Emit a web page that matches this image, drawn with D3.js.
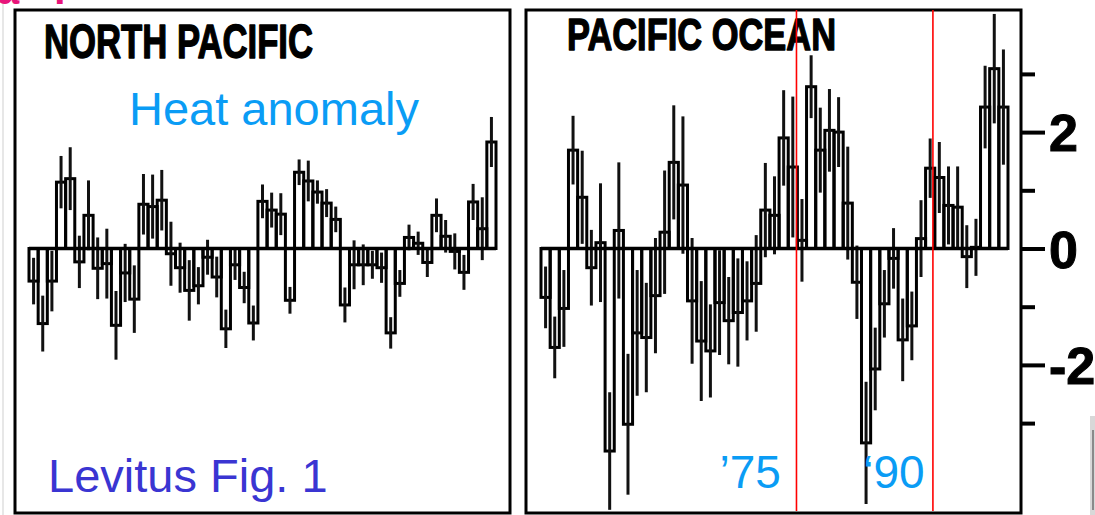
<!DOCTYPE html>
<html>
<head>
<meta charset="utf-8">
<script src="https://cdn.jsdelivr.net/npm/d3@7"></script>
<style>
  html, body { margin: 0; padding: 0; background: #ffffff; }
  svg { display: block; }
</style>
</head>
<body>
<svg id="chart" width="1095" height="515"></svg>
<script>
// ---------------- data ----------------
const years = [1948,1949,1950,1951,1952,1953,1954,1955,1956,1957,1958,1959,1960,1961,1962,1963,1964,1965,1966,1967,
  1968,1969,1970,1971,1972,1973,1974,1975,1976,1977,1978,1979,1980,1981,1982,1983,1984,1985,1986,1987,
  1988,1989,1990,1991,1992,1993,1994,1995,1996,1997,1998];

const northPacific = [-0.56,-1.29,-0.56,1.14,1.2,-0.23,0.57,-0.34,-0.26,-1.32,-0.42,-0.87,0.76,0.72,0.83,-0.09,-0.33,
  -0.72,-0.64,-0.15,-0.49,-1.38,-0.28,-0.67,-1.28,0.81,0.66,0.59,-0.89,1.31,1.16,0.97,0.78,0.5,-0.97,
  -0.28,-0.28,-0.28,-0.33,-1.45,-0.6,0.19,0.09,-0.24,0.57,0.21,-0.05,-0.41,0.8,0.34,1.83];
const northPacificErr = [0.4,0.48,0.52,0.45,0.54,0.45,0.6,0.53,0.6,0.59,0.5,0.58,0.52,0.55,0.52,0.55,0.43,
  0.52,0.32,0.3,0.35,0.33,0.26,0.27,0.3,0.29,0.3,0.36,0.23,0.22,0.35,0.2,0.24,0.22,0.3,
  0.42,0.35,0.24,0.26,0.27,0.23,0.22,0.2,0.25,0.29,0.28,0.31,0.3,0.31,0.54,0.43];

const pacificOcean = [-0.84,-1.7,-1.03,1.69,0.88,-0.33,0.1,-3.48,0.31,-3.02,-1.45,-1.53,-0.81,0.28,1.48,1.09,-0.9,
  -1.59,-1.76,-0.93,-1.24,-1.1,-0.9,-0.6,0.66,0.57,1.9,1.4,0.14,2.78,1.69,2.03,2.0,0.78,-0.58,
  -3.34,-2.07,-0.95,-0.17,-1.57,-1.33,0.17,1.38,1.22,0.74,0.71,-0.14,0.02,2.43,3.09,2.43];
const pacificOceanErr = [0.53,0.53,0.66,0.59,0.8,0.65,1.02,1.01,1.17,1.21,1.08,0.94,0.99,1.06,0.98,1.18,1.08,
  1.03,0.8,0.9,0.75,0.93,0.68,0.83,0.81,0.67,0.82,1.21,0.71,0.54,0.73,0.71,0.6,0.97,0.63,
  1.05,0.71,0.58,0.52,0.71,0.59,0.66,0.51,0.61,0.67,0.7,0.54,0.49,0.71,0.94,0.99];

const minorTicks = [-3, -1, 1, 3];
const majorTicks = [-2, 0, 2];
const markerYears = [1975.4, 1990.3];
const markerLabels = ["\u201975", "\u201890"];
const markerLabelYears = [1967.0, 1982.7];
const panelTitles = ["NORTH PACIFIC", "PACIFIC OCEAN"];

// ---------------- drawing ----------------
const svg = d3.select("#chart");

const y = d3.scaleLinear().domain([-4.5, 4]).range([248.5 + 4.5 * 58.2, 248.5 - 4 * 58.2]);

// faint page edges
svg.append("line").attr("x1", 3).attr("x2", 3).attr("y1", 0).attr("y2", 515)
  .attr("stroke", "#cfcfcf").attr("stroke-width", 1);
svg.append("rect").attr("x", 1090).attr("y", 416).attr("width", 5).attr("height", 99)
  .attr("fill", "#d8d8d8");
svg.append("rect").attr("x", 1092).attr("y", 430).attr("width", 2).attr("height", 80)
  .attr("fill", "#8a8a8a");

// clipped pink heading fragment at top-left
svg.append("text").attr("x", -3).attr("y", 4).text("a I")
  .attr("font-family", "Liberation Sans, Arial, sans-serif").attr("font-weight", "bold")
  .attr("font-size", 40).attr("fill", "#e8157a").attr("letter-spacing", 12);

function drawPanel(frame, range, values, errs, title, titlePos) {
  const g = svg.append("g");
  const x = d3.scaleBand().domain(years).range(range).paddingInner(0).paddingOuter(0);

  // frame
  g.append("rect").attr("x", frame[0]).attr("y", frame[1])
    .attr("width", frame[2] - frame[0]).attr("height", frame[3] - frame[1])
    .attr("fill", "none").attr("stroke", "#000").attr("stroke-width", 3);

  const data = years.map((yr, i) => ({ yr, v: values[i], e: errs[i] }));

  // bars (open rectangles)
  g.selectAll("rect.bar").data(data).join("rect")
    .attr("class", "bar")
    .attr("x", d => x(d.yr))
    .attr("width", x.bandwidth())
    .attr("y", d => Math.min(y(d.v), y(0)))
    .attr("height", d => Math.abs(y(d.v) - y(0)))
    .attr("fill", "none").attr("stroke", "#000").attr("stroke-width", 3);

  // error whiskers
  g.selectAll("line.err").data(data).join("line")
    .attr("class", "err")
    .attr("x1", d => x(d.yr) + x.bandwidth() / 2)
    .attr("x2", d => x(d.yr) + x.bandwidth() / 2)
    .attr("y1", d => y(d.v + d.e))
    .attr("y2", d => y(d.v - d.e))
    .attr("stroke", "#111").attr("stroke-width", 3);

  // zero line
  g.append("line").attr("x1", range[0]).attr("x2", range[1])
    .attr("y1", y(0)).attr("y2", y(0))
    .attr("stroke", "#000").attr("stroke-width", 3.4);

  // title
  g.append("text").attr("x", titlePos[0]).attr("y", titlePos[1]).text(title)
    .attr("font-family", "Liberation Sans, Arial, sans-serif").attr("font-weight", "bold")
    .attr("font-size", titlePos[3]).attr("fill", "#000")
    .attr("stroke", "#000").attr("stroke-width", 1.4).attr("stroke-linejoin", "round")
    .attr("textLength", titlePos[2]).attr("lengthAdjust", "spacingAndGlyphs");
  return x;
}

drawPanel([15, 10, 510, 513], [29, 496], northPacific, northPacificErr, panelTitles[0], [44, 58, 269, 48]);
drawPanel([526, 10, 1021, 513], [541, 1008], pacificOcean, pacificOceanErr, panelTitles[1], [567, 50, 269, 45]);

// right axis of Pacific Ocean panel
const axisX = 1021;
const minorAxis = d3.axisRight(y).tickValues(minorTicks).tickSize(14).tickFormat("");
const majorAxis = d3.axisRight(y).tickValues(majorTicks).tickSize(24).tickPadding(4)
  .tickFormat(d => String(d));
const ga = svg.append("g").attr("transform", `translate(${axisX},0)`).call(minorAxis);
const gb = svg.append("g").attr("transform", `translate(${axisX},0)`).call(majorAxis);
[ga, gb].forEach(g => {
  g.select(".domain").remove();
  g.selectAll(".tick line").attr("stroke", "#000").attr("stroke-width", 4);
});
gb.selectAll(".tick text")
  .attr("font-family", "Liberation Sans, Arial, sans-serif").attr("font-weight", "bold")
  .attr("font-size", 52).attr("fill", "#000").attr("dy", "0.36em")
  .attr("stroke", "#000").attr("stroke-width", 1);

// red year markers
const xLin = d3.scaleLinear().domain([1947.5, 1998.5]).range([541, 1008]);
svg.selectAll("line.marker").data(markerYears).join("line")
  .attr("class", "marker")
  .attr("x1", d => xLin(d)).attr("x2", d => xLin(d))
  .attr("y1", 10).attr("y2", 511)
  .attr("stroke", "#ff0000").attr("stroke-width", 1.6);

// marker labels
svg.selectAll("text.mlabel").data(markerLabels).join("text")
  .attr("class", "mlabel")
  .attr("x", (d, i) => xLin(markerLabelYears[i])).attr("y", 488)
  .text(d => d)
  .attr("font-family", "Liberation Sans, Arial, sans-serif")
  .attr("font-size", 46).attr("fill", "#0a9cf5");

// annotations in left panel
svg.append("text").attr("x", 129).attr("y", 125).text("Heat anomaly")
  .attr("font-family", "Liberation Sans, Arial, sans-serif")
  .attr("font-size", 47).attr("fill", "#0a9cf5");
svg.append("text").attr("x", 48).attr("y", 492).text("Levitus Fig. 1")
  .attr("font-family", "Liberation Sans, Arial, sans-serif")
  .attr("font-size", 47).attr("fill", "#3a35d2");
</script>
</body>
</html>
